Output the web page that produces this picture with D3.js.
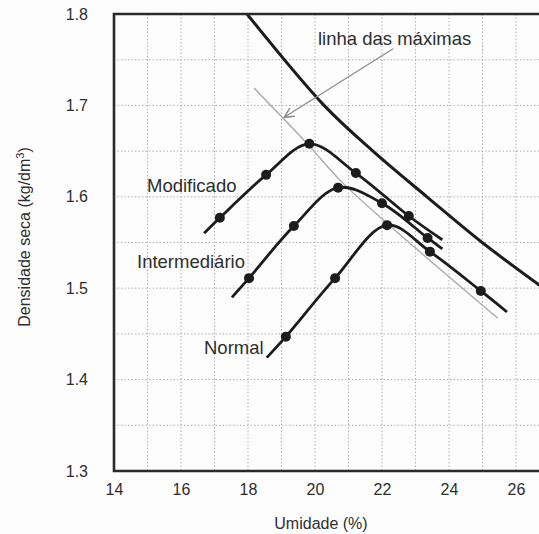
<!DOCTYPE html>
<html lang="pt">
<head>
    <meta charset="UTF-8">
    <title>Curvas de compactação</title>
    <script src="https://d3js.org/d3.v7.min.js"></script>
    <style>
        body { margin: 0; background: #fff; }
        text { font-family: "Liberation Sans", Arial, sans-serif; fill: #2e2e2e; }
        .grid line { stroke: #b0b0b0; stroke-width: 1px; stroke-dasharray: 1.5,2; }
        .tick-label { font-size: 16px; }
        .axis-label { font-size: 16px; }
        .curve-label { font-size: 18.5px; }
        .curve { fill: none; stroke: #1c1c1c; stroke-width: 2.8px; }
        .dot { fill: #1c1c1c; }
    </style>
</head>
<body>
    <svg width="539" height="534"></svg>

    <script>
        // Ticks
        const xTicks = [14, 16, 18, 20, 22, 24, 26];
        const yTicks = [1.3, 1.4, 1.5, 1.6, 1.7, 1.8];
        const xGrid = [15, 16, 17, 18, 19, 20, 21, 22, 23, 24, 25, 26];
        const yGrid = [1.35, 1.4, 1.45, 1.5, 1.55, 1.6, 1.65, 1.7, 1.75];

        // Compaction curves: line path and measured points (umidade %, densidade)
        const modificadoLine = [[16.69, 1.560], [17.16, 1.577], [18.54, 1.624], [19.83, 1.658], [21.22, 1.626], [22.80, 1.579], [23.80, 1.553]];
        const modificadoPts = [[17.16, 1.577], [18.54, 1.624], [19.83, 1.658], [21.22, 1.626], [22.80, 1.579]];

        const intermedLine = [[17.52, 1.490], [18.03, 1.511], [19.37, 1.568], [20.69, 1.610], [22.00, 1.593], [23.36, 1.555], [23.80, 1.543]];
        const intermedPts = [[18.03, 1.511], [19.37, 1.568], [20.69, 1.610], [22.00, 1.593], [23.36, 1.555]];

        const normalLine = [[18.56, 1.424], [19.13, 1.447], [20.60, 1.511], [22.15, 1.569], [23.43, 1.540], [24.95, 1.497], [25.73, 1.474]];
        const normalPts = [[19.13, 1.447], [20.60, 1.511], [22.15, 1.569], [23.43, 1.540], [24.95, 1.497]];

        // Saturation curve (thick) and line of maxima (thin grey)
        const saturacao = [[17.97, 1.800], [20.27, 1.700], [21.73, 1.650], [23.34, 1.600], [24.99, 1.550], [26.75, 1.502]];
        const linhaMaximas = [[18.18, 1.719], [19.82, 1.656], [20.75, 1.618], [22.15, 1.571], [25.46, 1.467]];

        // Annotation arrow
        const arrow = [[22.33, 1.762], [19.08, 1.687]];

        const margin = { top: 14, left: 114 };
        const plotH = 457;
        const pxPerUnit = 33.5;

        const x = d3.scaleLinear()
            .domain([14, 26.8])
            .range([margin.left, margin.left + 12.8 * pxPerUnit]);

        const y = d3.scaleLinear()
            .domain([1.3, 1.8])
            .range([margin.top + plotH, margin.top]);

        const svg = d3.select("svg");

        svg.append("rect")
            .attr("width", 539).attr("height", 534)
            .attr("fill", "#fdfdfd");

        // Dotted grid
        const grid = svg.append("g").attr("class", "grid");
        grid.selectAll(".vg")
            .data(xGrid)
          .enter().append("line")
            .attr("x1", d => x(d)).attr("x2", d => x(d))
            .attr("y1", y(1.8)).attr("y2", y(1.3));
        grid.selectAll(".hg")
            .data(yGrid)
          .enter().append("line")
            .attr("x1", x(14)).attr("x2", x(26.8))
            .attr("y1", d => y(d)).attr("y2", d => y(d));

        // Axes (labels only)
        const xAxis = svg.append("g")
            .attr("transform", `translate(0,${y(1.3)})`)
            .call(d3.axisBottom(x).tickValues(xTicks).tickSize(0).tickPadding(13));
        xAxis.select(".domain").remove();
        xAxis.selectAll("text").attr("class", "tick-label").attr("fill", "#333");

        const yAxis = svg.append("g")
            .attr("transform", `translate(${x(14)},0)`)
            .call(d3.axisLeft(y).tickValues(yTicks).tickFormat(d3.format(".1f")).tickSize(0).tickPadding(26));
        yAxis.select(".domain").remove();
        yAxis.selectAll("text").attr("class", "tick-label").attr("fill", "#333");

        svg.append("text")
            .attr("class", "axis-label")
            .attr("x", 321).attr("y", 529)
            .attr("text-anchor", "middle")
            .text("Umidade (%)");

        const yTitle = svg.append("text")
            .attr("class", "axis-label")
            .attr("transform", "translate(30,237) rotate(-90)")
            .attr("text-anchor", "middle");
        yTitle.append("tspan").text("Densidade seca (kg/dm");
        yTitle.append("tspan").attr("dy", -6).attr("font-size", "11px").text("3");
        yTitle.append("tspan").attr("dy", 6).text(")");

        // Clip to plot
        svg.append("clipPath").attr("id", "clip")
          .append("rect")
            .attr("x", x(14)).attr("y", y(1.8))
            .attr("width", x(26.8) - x(14)).attr("height", plotH);

        const plot = svg.append("g").attr("clip-path", "url(#clip)");

        const smooth = d3.line()
            .x(d => x(d[0])).y(d => y(d[1]))
            .curve(d3.curveCatmullRom.alpha(0.5));

        plot.append("path")
            .datum(linhaMaximas)
            .attr("d", smooth)
            .attr("fill", "none")
            .attr("stroke", "#a8a8a8")
            .attr("stroke-width", 1.3);

        plot.append("path")
            .datum(saturacao)
            .attr("d", smooth)
            .attr("fill", "none")
            .attr("stroke", "#1c1c1c")
            .attr("stroke-width", 3);

        const series = [
            [modificadoLine, modificadoPts],
            [intermedLine, intermedPts],
            [normalLine, normalPts]
        ];
        series.forEach(([line, pts]) => {
            plot.append("path")
                .datum(line)
                .attr("class", "curve")
                .attr("d", smooth);
            plot.selectAll(null)
                .data(pts)
              .enter().append("circle")
                .attr("class", "dot")
                .attr("cx", d => x(d[0]))
                .attr("cy", d => y(d[1]))
                .attr("r", 5);
        });

        // Arrow for "linha das máximas"
        svg.append("defs").append("marker")
            .attr("id", "head")
            .attr("viewBox", "0 0 10 10")
            .attr("refX", 9).attr("refY", 5)
            .attr("markerWidth", 12).attr("markerHeight", 12)
            .attr("markerUnits", "userSpaceOnUse")
            .attr("orient", "auto")
          .append("path")
            .attr("d", "M1,1 L9,5 L1,9")
            .attr("fill", "none")
            .attr("stroke", "#8a8a8a")
            .attr("stroke-width", 1.2);

        plot.append("line")
            .attr("x1", x(arrow[0][0])).attr("y1", y(arrow[0][1]))
            .attr("x2", x(arrow[1][0])).attr("y2", y(arrow[1][1]))
            .attr("stroke", "#8a8a8a")
            .attr("stroke-width", 1.2)
            .attr("marker-end", "url(#head)");

        // Curve labels
        const labels = [
            { text: "Modificado", x: 147, y: 192 },
            { text: "Intermediário", x: 137, y: 268 },
            { text: "Normal", x: 204, y: 354 },
            { text: "linha das máximas", x: 318, y: 45 }
        ];
        svg.selectAll(".curve-label")
            .data(labels)
          .enter().append("text")
            .attr("class", "curve-label")
            .attr("x", d => d.x).attr("y", d => d.y)
            .text(d => d.text);

        // Frame (left, top, bottom; right edge runs off the picture)
        svg.append("path")
            .attr("d", `M${x(26.8)},${y(1.8)} H${x(14)} V${y(1.3)} H${x(26.8)}`)
            .attr("fill", "none")
            .attr("stroke", "#2a2a2a")
            .attr("stroke-width", 2.6);
    </script>
</body>
</html>
